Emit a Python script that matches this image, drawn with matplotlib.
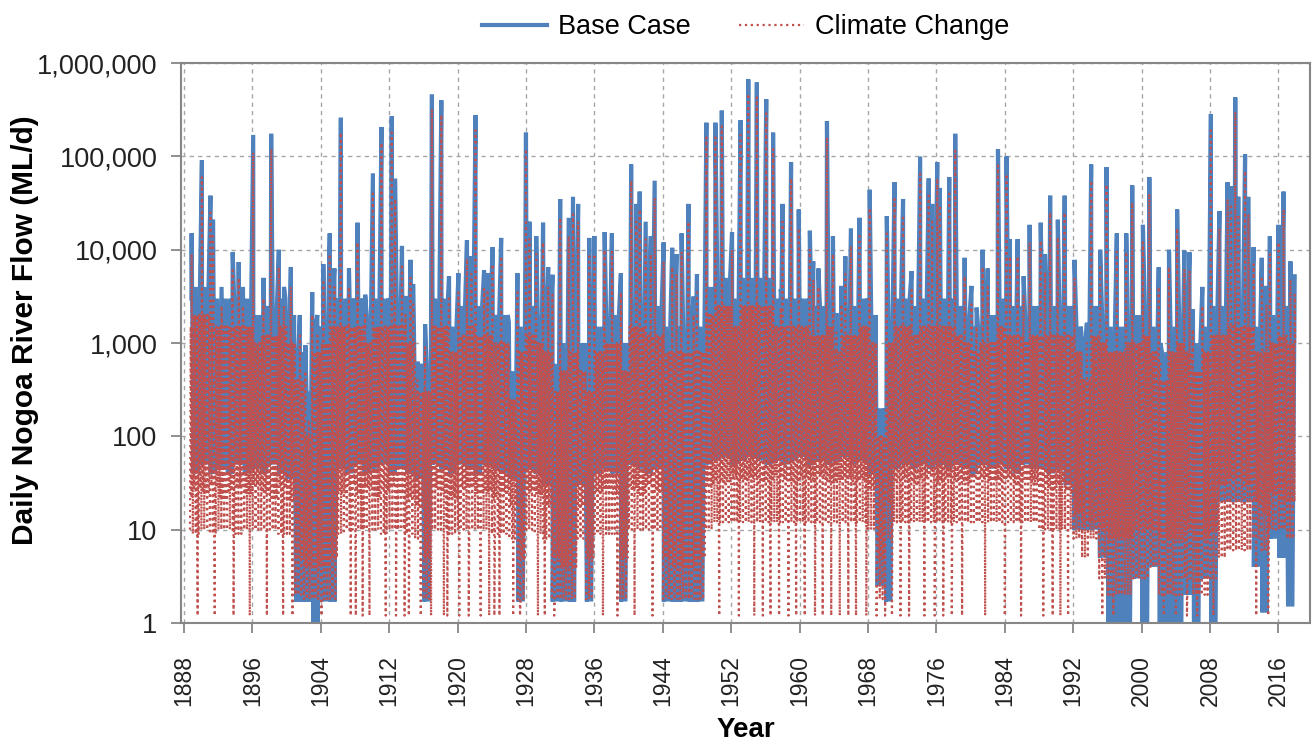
import numpy as np
import matplotlib.pyplot as plt
from matplotlib.ticker import FuncFormatter

plt.rcParams['font.family'] = ['Liberation Sans', 'DejaVu Sans']

# record runs from late 1888 to early 2018
years = np.arange(1888, 2018)
first_day = 1888.7
last_day = 2018.05

# typical upper level of the flow band, per year (ML/d)
base_top = [3000, 4000, 4000, 3000, 3000, 3000, 3000, 3000, 2000, 2500,
            2500, 3000, 2000, 800, 200, 1500, 2000, 3000, 3000, 3000,
            3000, 2000, 3000, 3000, 3000, 3000, 2000, 600, 600, 3000,
            3000, 1500, 2500, 3000, 2500, 2500, 2000, 2000, 500, 1500,
            2500, 2000, 1500, 600, 1000, 1500, 1000, 600, 1500, 2000,
            2000, 1000, 3000, 3000, 2500, 2500, 1500, 1500, 1500, 1500,
            1500, 4000, 5000, 5000, 3000, 5000, 5000, 5000, 5000, 3000,
            3000, 3000, 3000, 2500, 2500, 3000, 1500, 2500, 2500, 3000,
            2000, 200, 2000, 3000, 3000, 2500, 3000, 3000, 3000, 3000,
            2500, 2000, 1500, 2000, 2000, 3000, 2500, 2500, 2000, 2500,
            2500, 2500, 2500, 2500, 1500, 800, 2500, 2000, 1500, 1500,
            2000, 2000, 2500, 1500, 800, 1500, 2000, 1500, 1000, 1500,
            2500, 2500, 3000, 3000, 3000, 1500, 1500, 2000, 2500, 2000]

# typical low flow, per year (ML/d)
base_low = [45, 40, 50, 40, 45, 40, 50, 40, 45, 40,
            50, 40, 35, 1.7, 1.7, 0.6, 1.7, 1.7, 45, 40,
            50, 40, 45, 50, 40, 45, 40, 35, 1.7, 50,
            45, 40, 50, 45, 40, 50, 45, 40, 35, 1.7,
            45, 40, 30, 1.7, 1.7, 1.7, 30, 1.7, 40, 45,
            40, 1.7, 50, 45, 40, 45, 1.7, 1.7, 1.7, 1.7,
            1.7, 50, 55, 60, 50, 55, 60, 55, 50, 55,
            50, 55, 60, 50, 55, 50, 55, 60, 50, 55,
            40, 2.5, 1.7, 45, 50, 45, 50, 45, 50, 45,
            50, 45, 40, 50, 45, 50, 45, 40, 50, 45,
            45, 40, 45, 30, 10, 10, 10, 5, 0.5, 0.5,
            0.5, 3, 0.5, 4, 0.5, 0.5, 0.5, 2, 0.5, 3,
            0.5, 20, 20, 20, 20, 4, 1.3, 8, 5, 1.5]

clim_top = [1500, 2000, 2000, 1500, 1500, 1500, 1500, 1500, 1000, 1200,
            1200, 1500, 1000, 400, 100, 800, 1000, 1500, 1500, 1500,
            1500, 1000, 1500, 1500, 1500, 1500, 1000, 300, 300, 1500,
            1500, 800, 1200, 1500, 1200, 1200, 1000, 1000, 250, 800,
            1200, 1000, 800, 300, 500, 800, 500, 300, 800, 1000,
            1000, 500, 1500, 1500, 1200, 1200, 800, 800, 800, 800,
            800, 2000, 2500, 2500, 1500, 2500, 2500, 2500, 2500, 1500,
            1500, 1500, 1500, 1200, 1200, 1500, 800, 1200, 1200, 1500,
            1000, 100, 1000, 1500, 1500, 1200, 1500, 1500, 1500, 1500,
            1200, 1000, 800, 1000, 1000, 1500, 1200, 1200, 1000, 1200,
            1200, 1200, 1200, 1200, 800, 400, 1200, 1000, 800, 800,
            1000, 1000, 1200, 800, 400, 800, 1000, 800, 500, 800,
            1200, 1200, 1500, 1500, 1500, 800, 800, 1000, 1200, 1000]

# deepest recession of each year
clim_low = [10, 9, 10, 9, 10, 10, 9, 10, 10, 10,
            10, 9, 9, 2, 1.8, 1.8, 1.8, 1.8, 9, 10,
            10, 10, 10, 9, 10, 10, 9, 8, 1.8, 10,
            10, 9, 10, 10, 10, 10, 9, 9, 8, 1.8,
            10, 9, 8, 1.8, 1.8, 1.8, 8, 1.8, 9, 9,
            9, 1.8, 10, 10, 10, 10, 1.8, 1.8, 1.8, 1.8,
            1.8, 10, 12, 12, 12, 12, 12, 12, 12, 12,
            12, 12, 12, 12, 12, 12, 12, 12, 12, 12,
            10, 1.8, 8, 12, 12, 12, 12, 12, 12, 12,
            12, 12, 12, 12, 12, 12, 12, 12, 12, 12,
            10, 10, 10, 10, 8, 5, 8, 3, 2, 2,
            2, 3, 3, 4, 2, 2, 2, 3, 2, 2,
            3, 5, 6, 6, 6, 8, 6, 10, 10, 8]

# usual recession level between events
clim_mid = [22, 28, 25, 30, 22, 26, 28, 24, 30, 25,
            22, 28, 20, 5, 4, 4, 4, 5, 25, 30,
            24, 28, 22, 26, 30, 24, 22, 18, 5, 28,
            25, 22, 28, 30, 24, 26, 22, 25, 18, 5,
            26, 24, 18, 5, 4, 4, 18, 5, 25, 28,
            24, 5, 28, 24, 30, 26, 5, 4, 4, 4,
            5, 30, 35, 32, 38, 34, 36, 32, 35, 38,
            34, 32, 36, 35, 38, 32, 34, 36, 33, 35,
            28, 5, 20, 34, 36, 32, 35, 38, 33, 36,
            34, 32, 35, 36, 33, 34, 36, 32, 35, 33,
            30, 28, 32, 26, 15, 12, 12, 10, 8, 8,
            8, 10, 10, 10, 8, 8, 8, 10, 8, 8,
            10, 30, 35, 35, 30, 20, 15, 25, 20, 20]

# flood events: time, base case peak, climate change peak (ML/d)
spike_year = [1888.9, 1890.1, 1891.1, 1891.4, 1892.4, 1893.7, 1894.4, 1894.9, 1896.1, 1897.3,
              1898.2, 1899.1, 1899.7, 1900.5, 1901.55, 1902.2, 1902.6, 1903.0, 1903.6, 1904.3,
              1905.05, 1905.6, 1906.35, 1907.3, 1908.3, 1909.2, 1910.1, 1911.1, 1912.3, 1912.7,
              1913.5, 1913.9, 1914.5, 1914.8, 1915.3, 1916.2, 1917.0, 1918.1, 1919.0, 1920.1,
              1921.1, 1921.6, 1922.1, 1923.1, 1923.5, 1924.1, 1924.5, 1925.1, 1926.0, 1927.0,
              1928.0, 1928.4, 1929.2, 1930.0, 1930.6, 1931.1, 1932.0, 1933.0, 1933.5, 1934.1,
              1935.4, 1936.0, 1937.2, 1938.05, 1939.1, 1940.3, 1940.9, 1941.3, 1942.0, 1942.6,
              1943.05, 1944.1, 1945.1, 1945.6, 1946.2, 1947.0, 1947.6, 1948.0, 1949.1, 1950.15,
              1950.9, 1952.1, 1953.1, 1954.0, 1955.0, 1956.1, 1956.9, 1957.8, 1958.0, 1959.0,
              1959.9, 1961.2, 1961.6, 1962.2, 1963.2, 1963.9, 1964.3, 1964.9, 1965.35, 1966.0,
              1967.0, 1968.2, 1970.2, 1971.1, 1972.1, 1973.1, 1974.1, 1975.1, 1975.5, 1976.1,
              1976.4, 1977.5, 1978.2, 1978.6, 1979.3, 1980.1, 1980.7, 1981.4, 1982.0, 1983.2,
              1984.2, 1984.6, 1985.5, 1986.2, 1986.9, 1988.2, 1988.7, 1989.3, 1990.2, 1991.0,
              1992.15, 1993.0, 1993.6, 1994.1, 1995.15, 1995.9, 1997.1, 1998.2, 1998.9, 2000.15,
              2000.9, 2002.0, 2002.2, 2003.2, 2004.15, 2005.0, 2005.6, 2006.0, 2007.1, 2008.1,
              2009.1, 2010.05, 2010.45, 2010.95, 2011.3, 2012.1, 2012.5, 2013.1, 2014.05, 2014.6,
              2015.0, 2016.0, 2016.6, 2017.4, 2017.9]
base_spike = [15000, 91000, 38000, 21000, 4000, 9400, 7400, 4000, 170000, 5000,
              175000, 10000, 4000, 6500, 2000, 950, 300, 3500, 2000, 7000,
              15000, 6300, 260000, 6300, 19500, 3300, 66000, 207000, 270000, 58000,
              11000, 3200, 7800, 4300, 630, 1600, 460000, 400000, 5200, 5600,
              12700, 8500, 277000, 6000, 5600, 10700, 1600, 13400, 1660, 5600,
              180000, 20000, 14000, 19500, 6500, 5400, 35000, 22000, 37000, 31000,
              13400, 14000, 15500, 15000, 5600, 82000, 31000, 42000, 20000, 14000,
              55000, 12000, 10500, 9000, 15000, 31000, 3150, 5500, 230000, 230000,
              310000, 15500, 245000, 670000, 620000, 410000, 180000, 3800, 31000, 87000,
              27000, 16000, 7500, 6300, 240000, 14000, 2100, 4100, 8500, 17000,
              22000, 44000, 23000, 53000, 35000, 5900, 100000, 58000, 31000, 87000,
              46000, 60000, 175000, 1400, 8200, 4100, 2400, 10000, 6300, 120000,
              100000, 13000, 13000, 5200, 18500, 19500, 9000, 38000, 21000, 38000,
              7800, 1150, 1650, 82000, 10000, 77000, 15000, 15000, 49000, 18500,
              60000, 6500, 1000, 10000, 27000, 9800, 9400, 2300, 4000, 285000,
              26000, 53000, 48000, 430000, 37000, 105000, 37000, 10700, 8200, 4100,
              14000, 18500, 42000, 7500, 5200]
clim_spike = [9000, 60000, 25000, 14000, 2500, 6000, 5000, 2500, 110000, 3000,
              120000, 6500, 2500, 4000, 1200, 500, 150, 2000, 1200, 4500,
              9000, 4000, 180000, 4000, 12000, 2000, 40000, 140000, 180000, 35000,
              7000, 2000, 5000, 2600, 400, 900, 320000, 280000, 3200, 3500,
              8000, 5500, 190000, 3800, 3500, 7000, 1000, 8500, 1000, 3500,
              120000, 13000, 9000, 12000, 4000, 3300, 22000, 14000, 24000, 20000,
              8500, 9000, 10000, 9500, 3500, 55000, 20000, 27000, 13000, 9000,
              36000, 7500, 6500, 5500, 9500, 20000, 2000, 3500, 160000, 160000,
              210000, 10000, 170000, 470000, 430000, 290000, 120000, 2400, 20000, 58000,
              17000, 10000, 4800, 4000, 160000, 9000, 1300, 2600, 5500, 11000,
              14000, 28000, 15000, 35000, 22000, 3700, 65000, 38000, 20000, 58000,
              30000, 40000, 115000, 900, 5200, 2600, 1500, 6500, 4000, 80000,
              65000, 8500, 8500, 3300, 12000, 12500, 5800, 25000, 13500, 25000,
              5000, 700, 1000, 55000, 6500, 50000, 9500, 9500, 32000, 12000,
              40000, 4000, 600, 6500, 17000, 6200, 6000, 1400, 2500, 190000,
              17000, 35000, 31000, 300000, 24000, 70000, 24000, 7000, 5200, 2600,
              9000, 12000, 27000, 4800, 3300]

# short cease-to-flow dips in the climate change run
clim_dip_year = [1889.6, 1891.6, 1893.8, 1895.7, 1897.7, 1899.6, 1900.7, 1904.1, 1907.5, 1908.1,
                 1908.9, 1909.7, 1911.6, 1912.8, 1913.8, 1914.3, 1915.7, 1916.9, 1918.4, 1918.8,
                 1920.2, 1921.3, 1922.7, 1923.7, 1924.3, 1924.9, 1926.5, 1927.3, 1929.4, 1930.2,
                 1931.3, 1937.0, 1938.7, 1940.7, 1942.8, 1950.6, 1952.9, 1954.7, 1955.7, 1956.6,
                 1957.6, 1958.7, 1959.6, 1960.6, 1961.8, 1962.7, 1963.7, 1964.7, 1965.7, 1966.6,
                 1967.8, 1969.0, 1970.0, 1970.8, 1971.8, 1972.8, 1974.6, 1975.8, 1976.8, 1977.8,
                 1979.0, 1981.7, 1984.0, 1985.9, 1988.5, 1989.6, 1990.5, 1991.4, 1995.4, 1996.7,
                 2002.6, 2004.0, 2005.3, 2006.5, 2008.4, 2013.4, 2014.8]
clim_dip_flow = 1.2


def build_series(top, low, mid, n_osc, ev_t, ev_q):
    t, q = [], []
    for y, hi, lo, md in zip(years, top, low, mid):
        for k in range(2 * n_osc):
            tk = y + (k + 0.5) / (2 * n_osc)
            if tk < first_day or tk > last_day:
                continue
            if k % 2:
                val = hi
            elif k % 4 == 0:
                val = lo
            else:
                val = md
            t.append(tk)
            q.append(val)
    t = np.concatenate([t, ev_t])
    q = np.concatenate([q, ev_q])
    order = np.argsort(t)
    return t[order], q[order]


base_t, base_q = build_series(base_top, base_low, base_low, 2,
                              spike_year, base_spike)
clim_t, clim_q = build_series(clim_top, clim_low, clim_mid, 6,
                              spike_year + clim_dip_year,
                              clim_spike + [clim_dip_flow] * len(clim_dip_year))

fig = plt.figure(figsize=(13.16, 7.43), dpi=100)
ax = fig.add_axes([0.1375, 0.1615, 0.858, 0.7535])

ax.plot(base_t, base_q, color='#4F81BD', lw=3.0, solid_joinstyle='miter',
        label='Base Case', zorder=2)
ax.plot(clim_t, clim_q, color='#C0504D', lw=1.6, ls=':',
        label='Climate Change', zorder=3)

ax.set_yscale('log')
ax.set_ylim(1, 1e6)
ax.set_xlim(1887.65, 2019.7)
ax.set_xticks(np.arange(1888, 2017, 8))
ax.set_xticklabels([str(y) for y in range(1888, 2017, 8)], rotation=90)
ax.yaxis.set_major_formatter(FuncFormatter(lambda v, p: f'{v:,.0f}'))
ax.minorticks_off()

ax.grid(True, color='#a6a6a6', ls=(0, (3, 3)), lw=1.0)
ax.set_axisbelow(True)
for s in ax.spines.values():
    s.set_color('#868686')
    s.set_linewidth(1.5)
ax.tick_params(axis='both', colors='#868686', labelcolor='#222222',
               length=7, width=1.3, direction='out')
ax.tick_params(axis='x', labelsize=16.5, pad=16)
ax.tick_params(axis='y', labelsize=19.5, pad=10)

ax.set_xlabel('Year', fontsize=20, fontweight='bold', labelpad=8)
ax.set_ylabel('Daily Nogoa River Flow (ML/d)', fontsize=21.5, fontweight='bold')
ax.yaxis.set_label_coords(-0.126, 0.523)

ax.legend(loc='lower center', bbox_to_anchor=(0.5, 1.022), ncol=2, frameon=False,
          fontsize=19.5, handlelength=2.4, columnspacing=1.8, handletextpad=0.4,
          borderaxespad=0.0)

fig.savefig('out.png', dpi=100)
